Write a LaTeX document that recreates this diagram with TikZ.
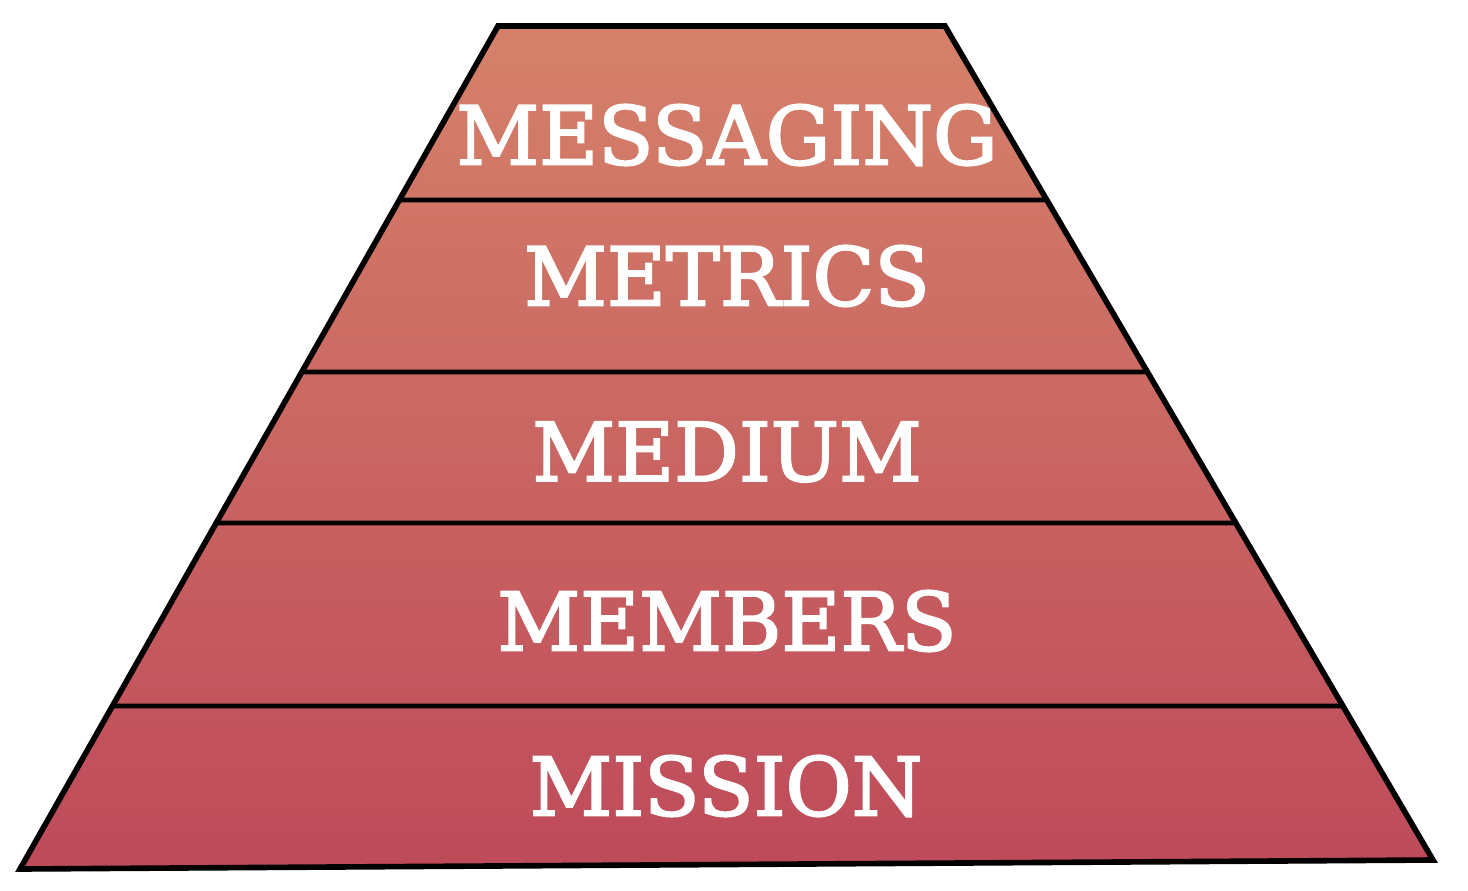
\documentclass[tikz,border=0pt]{standalone}
\usepackage{fontspec}
\newfontfamily\layerfont{DejaVu Serif}[FakeBold=2.5]
\usetikzlibrary{calc}

\definecolor{toprose}{RGB}{213,129,106}
\definecolor{baserose}{RGB}{190,74,90}

\tikzset{
    layer/.style={text=white, inner sep=0pt, font=\layerfont\fontsize{46}{50}\selectfont},
    rim/.style={line width=3.2pt, line join=miter},
    divider/.style={line width=2.7pt}
}

\begin{document}
\begin{tikzpicture}[x=0.02cm, y=-0.02cm]
    \useasboundingbox (0,0) rectangle (1468,890);
    % corners of the pyramid
    \coordinate (tl) at (498,26);
    \coordinate (tr) at (945,26);
    \coordinate (br) at (1433,860);
    \coordinate (bl) at (20,869);

    \shade [top color=toprose, bottom color=baserose] (tl) -- (tr) -- (br) -- (bl) -- cycle;

    % the four cuts between the layers
    \foreach \lt/\rt [count=\i] in {0.2064/0.2086, 0.4104/0.4149, 0.5896/0.5959, 0.8066/0.8153} {
        \coordinate (l\i) at ($(tl)!\lt!(bl)$);
        \coordinate (r\i) at ($(tr)!\rt!(br)$);
        \draw [divider] (l\i) -- (r\i);
    }
    \draw [rim] (tl) -- (tr) -- (br) -- (bl) -- cycle;

    \node [layer] (messaging) at (727,135) {MESSAGING};
    \node [layer] (metrics) at (727,276) {METRICS};
    \node [layer] (medium) at (727,452) {MEDIUM};
    \node [layer] (members) at (727,621) {MEMBERS};
    \node [layer] (mission) at (726,786) {MISSION};
\end{tikzpicture}
\end{document}
